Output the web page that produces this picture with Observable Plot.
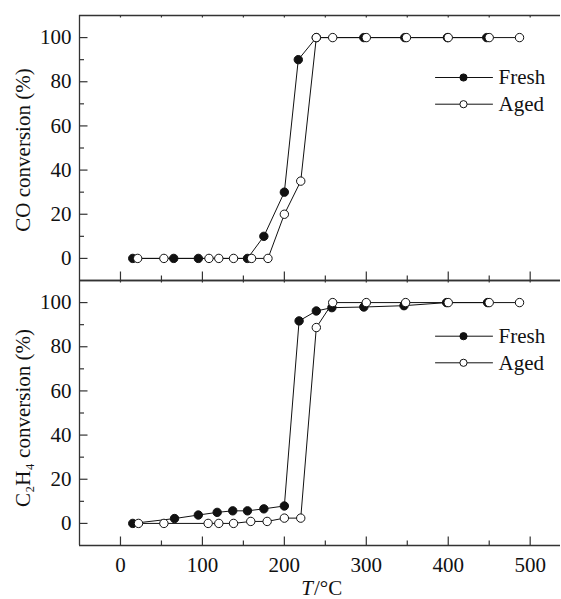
<!DOCTYPE html>
<html>
<head>
<meta charset="utf-8">
<script src="https://cdn.jsdelivr.net/npm/d3@7"></script>
<script src="https://cdn.jsdelivr.net/npm/@observablehq/plot@0.6"></script>
<style>
  body { margin: 0; background: #fff; }
  #chart svg text { font-family: "Liberation Serif", "Times New Roman", serif; }
</style>
</head>
<body>
<div id="chart"></div>
<script>
// ---- data ----
const PANELS = ["CO", "C2H4"];
const Y_LABELS = ["CO conversion (%)", "C\u2082H\u2084 conversion (%)"];
const SERIES = ["Fresh", "Aged"];

const T_CO_FRESH = [15, 65, 95, 155, 175, 200, 217, 239, 297, 347, 399, 447];
const CO_FRESH   = [0, 0, 0, 0, 10, 30, 90, 100, 100, 100, 100, 100];
const T_CO_AGED  = [21, 53, 108, 120, 138, 160, 180, 200, 220, 239, 259, 300, 349, 400, 450, 487];
const CO_AGED    = [0, 0, 0, 0, 0, 0, 0, 20, 35, 100, 100, 100, 100, 100, 100, 100];

const T_C2H4_FRESH = [15, 66, 95, 118, 137, 155, 175, 200, 218, 239, 258, 297, 346, 398, 448];
const C2H4_FRESH   = [0, 2.2, 3.8, 5, 5.7, 5.7, 6.6, 7.9, 91.7, 96.2, 97.7, 98, 98.6, 100, 100];
const T_C2H4_AGED  = [22, 53, 107, 120, 138, 159, 179, 200, 220, 239, 259, 300, 348, 400, 450, 487];
const C2H4_AGED    = [0, 0, 0, 0, 0, 0.9, 0.9, 2.4, 2.4, 88.7, 100, 100, 100, 100, 100, 100];

const X_TICKS = [0, 100, 200, 300, 400, 500];
const X_MINOR = [50, 150, 250, 350, 450];
const X_TOP   = [0, 50, 100, 150, 200, 250, 300, 350, 400, 450, 500];
const Y_TICKS = [0, 20, 40, 60, 80, 100];
const Y_MINOR = [10, 30, 50, 70, 90];
const X_DOMAIN = [-50, 537];
const Y_DOMAIN = [-10, 110];
const X_LABEL_ITALIC = "T";
const X_LABEL_REST = "/\u00B0C";

// ---- build tables ----
const rows = (panel, series, T, V) => T.map((t, i) => ({panel, series, T: t, v: V[i]}));
const fresh = [...rows("CO", "Fresh", T_CO_FRESH, CO_FRESH), ...rows("C2H4", "Fresh", T_C2H4_FRESH, C2H4_FRESH)];
const aged  = [...rows("CO", "Aged", T_CO_AGED, CO_AGED), ...rows("C2H4", "Aged", T_C2H4_AGED, C2H4_AGED)];

const INK = "#111";
const FRAME = "#333";
const FONT = 21;
const FF = "Liberation Serif, Times New Roman, serif";
const tickShape = {draw(ctx, l) { ctx.moveTo(0, 0); ctx.lineTo(0, -l); }};

function ticks(values, frameAnchor, rotate, length, sw = 1.2) {
  const opts = {frameAnchor, rotate, length, anchor: "start", shape: tickShape, stroke: FRAME, strokeWidth: sw, strokeLinecap: "butt"};
  if (frameAnchor === "left") opts.y = d => d; else opts.x = d => d;
  return Plot.vector(values, opts);
}

function legend(panel, dyF, dyA) {
  const d = [{panel}];
  const base = {fy: "panel", frameAnchor: "top-right"};
  const out = [];
  [[SERIES[0], dyF, INK], [SERIES[1], dyA, "white"]].forEach(([name, dy, fill]) => {
    out.push(Plot.vector(d, {...base, dx: -125, dy, rotate: 90, length: 57, anchor: "start", shape: tickShape, stroke: INK, strokeWidth: 1}));
    out.push(Plot.dot(d, {...base, dx: -97, dy, r: 3.6, fill, stroke: INK, strokeWidth: 1}));
    out.push(Plot.text(d, {...base, dx: -62, dy, text: () => name, textAnchor: "start", lineAnchor: "middle", fontSize: 21, fontFamily: FF, fill: INK}));
  });
  return out;
}

function yLabel(i, dy) {
  return Plot.text([{panel: PANELS[i], label: Y_LABELS[i]}], {
    fy: "panel", text: "label", frameAnchor: "left", textAnchor: "middle", lineAnchor: "middle",
    dx: -56, dy, rotate: -90, fontSize: 21, fontFamily: FF, fill: INK
  });
}

const xLab = [{panel: "C2H4"}];

const chart = Plot.plot({
  width: 561,
  height: 599,
  marginLeft: 79,
  marginRight: 1,
  marginTop: 14,
  marginBottom: 54,
  style: "font-family: 'Liberation Serif', 'Times New Roman', serif; font-size: 21px; background: #fff; color: #111;",
  x: {domain: X_DOMAIN},
  y: {domain: Y_DOMAIN},
  fy: {domain: PANELS, axis: null, padding: 0},
  marks: [
    // frame (top, bottom, left)
    Plot.ruleY(Y_DOMAIN, {stroke: FRAME, strokeWidth: 1.3}),
    Plot.ruleX([X_DOMAIN[0]], {stroke: FRAME, strokeWidth: 1.3}),
    // inward ticks
    ticks(Y_TICKS, "left", 90, 8),
    ticks(Y_MINOR, "left", 90, 4.5),
    ticks(X_TICKS, "bottom", 0, 9),
    ticks(X_MINOR, "bottom", 0, 5),
    ticks(X_TOP, "top", 180, 2),
    // tick labels
    Plot.axisY({ticks: Y_TICKS, tickSize: 0, tickPadding: 8, label: null, fontSize: FONT, fontFamily: FF, fill: INK}),
    Plot.axisX({ticks: X_TICKS, tickSize: 0, tickPadding: 12, label: null, fontSize: FONT, fontFamily: FF, fill: INK}),
    // axis titles
    yLabel(0, 2),
    yLabel(1, 5),
    Plot.text(xLab, {fy: "panel", text: () => X_LABEL_ITALIC, frameAnchor: "bottom", dx: -7, dy: 42.5, textAnchor: "end", lineAnchor: "middle", fontStyle: "italic", fontSize: 21, fontFamily: FF, fill: INK}),
    Plot.text(xLab, {fy: "panel", text: () => X_LABEL_REST, frameAnchor: "bottom", dx: -6, dy: 42.5, textAnchor: "start", lineAnchor: "middle", fontSize: 21, fontFamily: FF, fill: INK}),
    // data
    Plot.line(fresh, {x: "T", y: "v", fy: "panel", stroke: INK, strokeWidth: 1}),
    Plot.dot(fresh, {x: "T", y: "v", fy: "panel", r: 4.2, fill: INK, stroke: INK, strokeWidth: 1}),
    Plot.line(aged, {x: "T", y: "v", fy: "panel", stroke: INK, strokeWidth: 1}),
    Plot.dot(aged, {x: "T", y: "v", fy: "panel", r: 4.2, fill: "white", stroke: INK, strokeWidth: 1}),
    // legends
    ...legend("CO", 62, 88.7),
    ...legend("C2H4", 55.7, 82.3)
  ]
});
document.getElementById("chart").appendChild(chart);
</script>
</body>
</html>
